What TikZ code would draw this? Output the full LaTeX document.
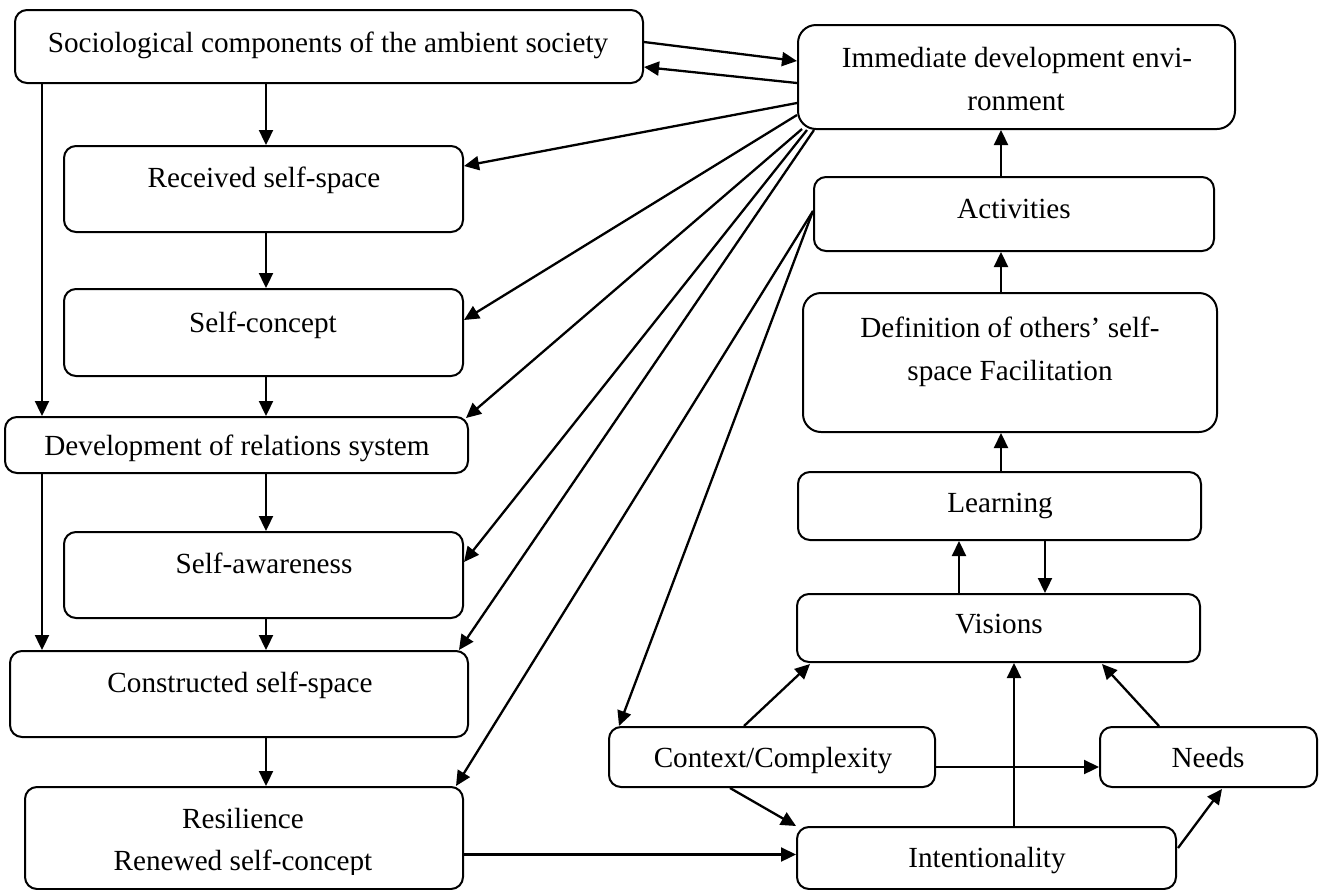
\documentclass[tikz,border=0pt]{standalone}
\usepackage{fontspec}
\setmainfont{Liberation Serif}
\usetikzlibrary{arrows.meta,calc,fit}
\begin{document}
\begin{tikzpicture}[x=0.5pt,y=-0.5pt,
  box/.style={draw, line width=1pt, rounded corners=6pt, inner sep=0pt},
  bigbox/.style={box, rounded corners=9pt},
  lbl/.style={anchor=base, inner sep=0pt, font=\fontsize{14.6}{17}\selectfont},
  ln/.style={line width=1.15pt},
  arr/.style={ln, -{Triangle[length=7.5pt,width=7pt]}}]
\useasboundingbox (0,0) rectangle (1319,890);

% boxes, left column
\node[box, fit={(15,10) (643,83)}]   (soc) {};
\node[box, fit={(64,146) (463,232)}] (rss) {};
\node[box, fit={(64,289) (463,376)}] (sc)  {};
\node[box, fit={(5,417) (468,473)}]  (drs) {};
\node[box, fit={(64,532) (463,618)}] (sa)  {};
\node[box, fit={(10,651) (468,737)}] (css) {};
\node[box, fit={(25,787) (463,889)}] (res) {};

% boxes, right column
\node[bigbox, fit={(798,25) (1235,129)}]  (ide) {};
\node[box, fit={(814,177) (1214,251)}]    (act) {};
\node[bigbox, fit={(803,293) (1217,432)}] (def) {};
\node[box, fit={(798,472) (1201,540)}]    (lrn) {};
\node[box, fit={(797,594) (1200,662)}]    (vis) {};
\node[box, fit={(609,727) (935,787)}]     (ctx) {};
\node[box, fit={(1100,727) (1317,787)}]   (nds) {};
\node[box, fit={(797,827) (1176,889)}]    (int) {};

% texts
\node[lbl] (socT) at (328,52)  {Sociological components of the ambient society};
\node[lbl] (rssT) at (264,187) {Received self-space};
\node[lbl] (scT)  at (263,332) {Self-concept};
\node[lbl] (drsT) at (237,455) {Development of relations system};
\node[lbl] (saT)  at (264,573) {Self-awareness};
\node[lbl] (cssT) at (240,692) {Constructed self-space};
\node[lbl] (resT) at (243,828) {Resilience};
\begin{scope}
  \clip (25,780) rectangle (463,874);
  \node[lbl] (resT2) at (243,870) {Renewed self-concept};
\end{scope}
\node[lbl] (ideT)  at (1017,67)  {Immediate development envi-};
\node[lbl] (ideT2) at (1016,110) {ronment};
\node[lbl] (actT)  at (1014,218) {Activities};
\node[lbl] (defT)  at (1010,337) {Definition of others’ self-};
\node[lbl] (defT2) at (1010,380) {space Facilitation};
\node[lbl] (lrnT)  at (1000,512) {Learning};
\node[lbl] (visT)  at (999,633)  {Visions};
\node[lbl] (ctxT)  at (773,767)  {Context/Complexity};
\node[lbl] (ndsT)  at (1208,767) {Needs};
\node[lbl] (intT)  at (987,867)  {Intentionality};

% vertical guide positions
\coordinate (xA) at (266,0);
\coordinate (xB) at (42,0);
\coordinate (xC) at (1001,0);
\coordinate (xD) at (959,0);
\coordinate (xE) at (1045,0);
\coordinate (xF) at (1014,0);

% left column chain
\draw[arr] (soc.south -| xA) -- (rss.north -| xA);
\draw[arr] (rss.south -| xA) -- (sc.north -| xA);
\draw[arr] (sc.south -| xA)  -- (drs.north -| xA);
\draw[arr] (drs.south -| xA) -- (sa.north -| xA);
\draw[arr] (sa.south -| xA)  -- (css.north -| xA);
\draw[arr] (css.south -| xA) -- (res.north -| xA);
\draw[arr] (soc.south -| xB) -- (drs.north -| xB);
\draw[arr] (drs.south -| xB) -- (css.north -| xB);

% exchange with the immediate environment
\draw[arr] ($(soc.east)+(0,-4.5)$) -- ($(ide.west)+(0,-16)$);
\draw[arr] ($(ide.west)+(0,6)$) -- ($(soc.east)+(0,20.5)$);
\draw[arr] ($(ide.west)+(0,26)$) -- ($(rss.east)+(0,-23)$);
\draw[arr] ($(ide.west)+(0,38)$) -- ($(sc.east)+(0,-12.5)$);
\draw[arr] ($(ide.south west)+(5,-1)$) -- ($(drs.north east)+(-3,2)$);
\draw[arr] ($(ide.south west)+(10,0)$) -- ($(sa.east)+(0,-13)$);
\draw[arr] ($(ide.south west)+(17,0)$) -- ($(css.north east)+(-10,0)$);

% from the activities
\draw[arr] ($(act.west)+(0,-3)$) -- ($(res.north east)+(-8,0)$);
\draw[arr] ($(act.west)+(0,-3)$) -- ($(ctx.north west)+(11,0)$);

% right column chain
\draw[arr] (act.north -| xC) -- (ide.south -| xC);
\draw[arr] (def.north -| xC) -- (act.south -| xC);
\draw[arr] (lrn.north -| xC) -- (def.south -| xC);
\draw[arr] (vis.north -| xD) -- (lrn.south -| xD);
\draw[arr] (lrn.south -| xE) -- (vis.north -| xE);
\draw[arr] (int.north -| xF) -- (vis.south -| xF);

% lower cluster
\draw[arr] ($(ctx.north west)+(136,0)$) -- ($(vis.south west)+(14,1)$);
\draw[arr] ($(nds.north west)+(60,0)$) -- ($(vis.south east)+(-99,1)$);
\draw[arr] ($(ctx.east)+(0,10)$) -- ($(nds.west)+(0,10)$);
\draw[arr] ($(ctx.south west)+(122,0)$) -- (int.north west);
\draw[arr] ($(int.north east)+(1,22)$) -- ($(nds.south west)+(123,1)$);
\draw[arr] ($(res.east)+(0,16.5)$) coordinate (r0) -- (r0 -| int.west);
\end{tikzpicture}
\end{document}
